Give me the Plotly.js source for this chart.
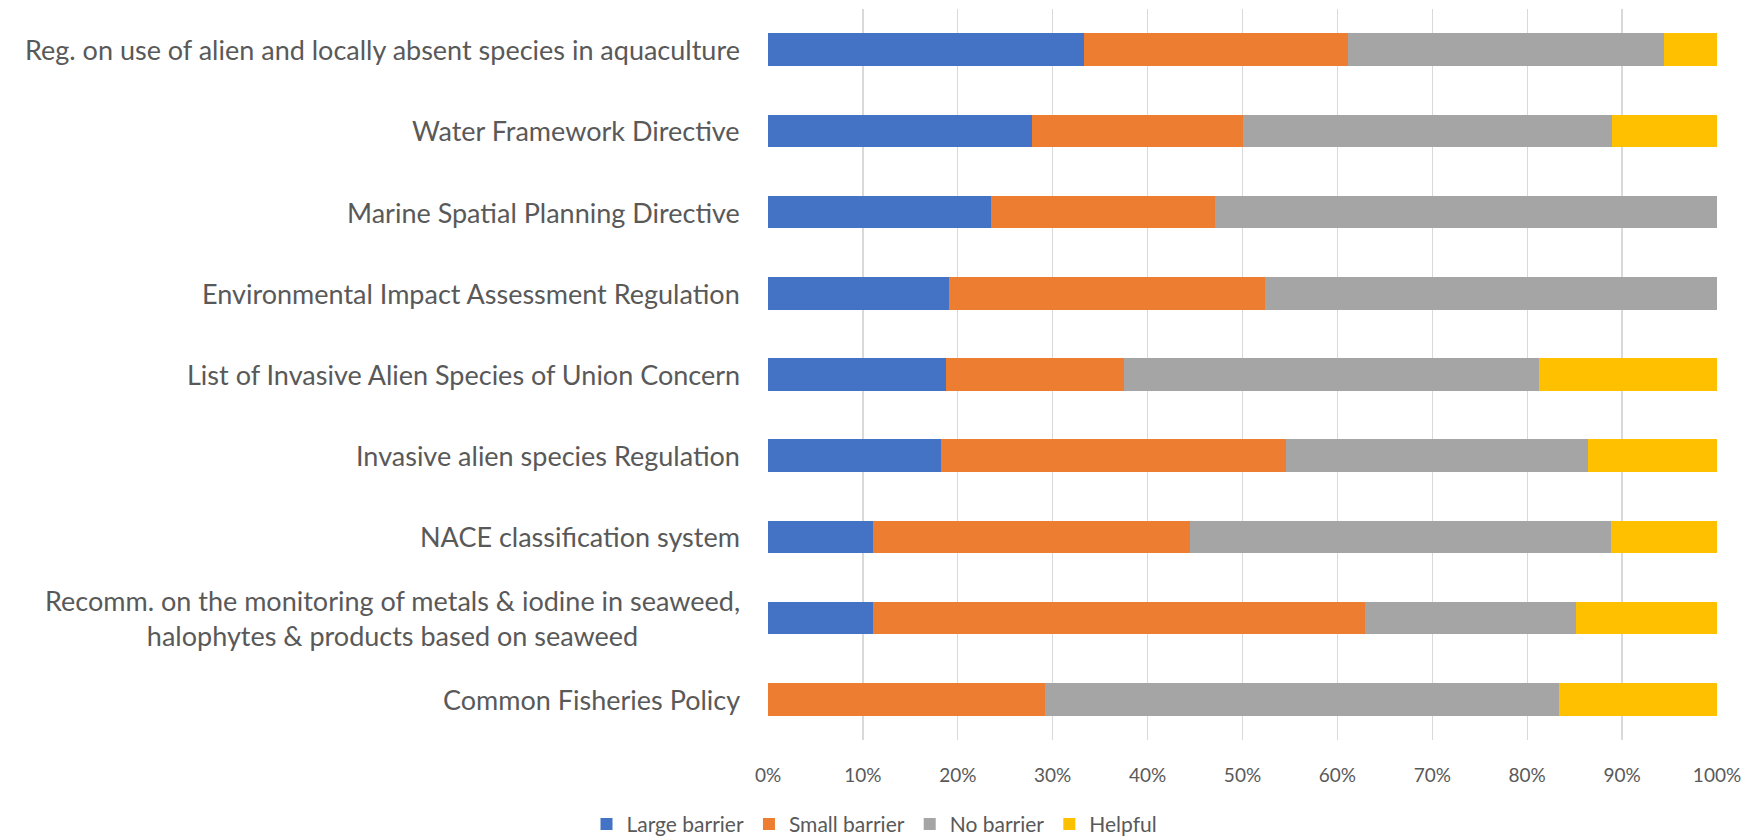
<!DOCTYPE html>
<html>
<head>
<meta charset="utf-8">
<script src="https://cdn.plot.ly/plotly-3.0.1.min.js"></script>
<style>
  html, body { margin: 0; padding: 0; background: #ffffff; }
  #chart { width: 1749px; height: 836px; }
</style>
</head>
<body>
<div id="chart"></div>
<script>
// Regulations, listed top to bottom
const regulations = [
  "Reg. on use of alien and locally absent species in aquaculture",
  "Water Framework Directive",
  "Marine Spatial Planning Directive",
  "Environmental Impact Assessment Regulation",
  "List of Invasive Alien Species of Union Concern",
  "Invasive alien species Regulation",
  "NACE classification system",
  "Recomm. on the monitoring of metals & iodine in seaweed,<br>halophytes & products based on seaweed",
  "Common Fisheries Policy"
];

// Share of answers per regulation (%)
const largeBarrier = [33.33, 27.78, 23.53, 19.05, 18.75, 18.18, 11.11, 11.11, 0];
const smallBarrier = [27.78, 22.22, 23.53, 33.33, 18.75, 36.36, 33.33, 51.85, 29.17];
const noBarrier    = [33.33, 38.89, 52.94, 47.62, 43.75, 31.82, 44.44, 22.22, 54.17];
const helpful      = [5.56, 11.11, 0, 0, 18.75, 13.64, 11.11, 14.81, 16.67];

const seriesNames = ["Large barrier", "Small barrier", "No barrier", "Helpful"];
const seriesValues = [largeBarrier, smallBarrier, noBarrier, helpful];
const seriesColors = ["#4472C4", "#ED7D31", "#A5A5A5", "#FFC000"];

const textGray = "#595959";
const fontFamily = "Lato, 'Open Sans', sans-serif";

const traces = seriesNames.map((name, i) => ({
  type: "bar",
  orientation: "h",
  name: name,
  x: seriesValues[i],
  y: regulations,
  marker: { color: seriesColors[i], line: { width: 0 } },
  hovertemplate: "%{y}: %{x:.1f}%<extra>" + name + "</extra>"
}));

// Category labels drawn as annotations so wrapped lines stay centred
const labelAnnotations = regulations.map(r => ({
  x: 0, xref: "paper",
  y: r, yref: "y",
  xanchor: "right", yanchor: "middle",
  xshift: -26,
  align: "center",
  showarrow: false,
  text: r,
  font: { family: fontFamily, size: 27, color: textGray }
}));

const layout = {
  width: 1749,
  height: 836,
  margin: { l: 768, r: 32, t: 9, b: 96 },
  paper_bgcolor: "#ffffff",
  plot_bgcolor: "#ffffff",
  barmode: "stack",
  bargap: 0.6,
  showlegend: true,
  font: { family: fontFamily, color: textGray },
  xaxis: {
    range: [0, 100],
    dtick: 10,
    tick0: 0,
    ticksuffix: "%",
    showgrid: true,
    gridcolor: "#D9D9D9",
    gridwidth: 1.3,
    zeroline: false,
    showline: false,
    ticks: "",
    ticklabelstandoff: 22,
    tickfont: { family: fontFamily, size: 19, color: textGray },
    fixedrange: true
  },
  yaxis: {
    type: "category",
    categoryorder: "array",
    categoryarray: regulations,
    autorange: "reversed",
    showticklabels: false,
    showgrid: false,
    zeroline: false,
    showline: false,
    ticks: "",
    fixedrange: true
  },
  legend: {
    orientation: "h",
    xref: "container",
    yref: "container",
    x: 0.5,
    xanchor: "center",
    y: 0.014,
    yanchor: "middle",
    font: { family: fontFamily, size: 21, color: textGray },
    traceorder: "normal",
    itemwidth: 30
  },
  annotations: labelAnnotations
};

Plotly.newPlot("chart", traces, layout, { displayModeBar: false, staticPlot: true });
</script>
</body>
</html>
